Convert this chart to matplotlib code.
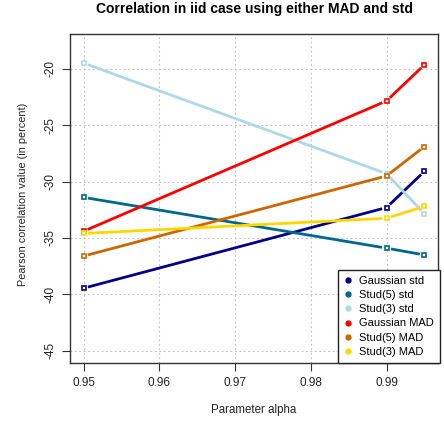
import matplotlib
matplotlib.use("Agg")
import matplotlib.pyplot as plt
from matplotlib.lines import Line2D
import numpy as np

plt.rcParams['font.family'] = ['Liberation Sans', 'DejaVu Sans']

alpha = [0.95, 0.99, 0.995]

gaussian_std = [-39.45, -32.3, -29.1]
stud5_std = [-31.4, -35.9, -36.5]
stud3_std = [-19.5, -29.3, -32.85]
gaussian_mad = [-34.4, -22.85, -19.65]
stud5_mad = [-36.6, -29.5, -26.9]
stud3_mad = [-34.6, -33.25, -32.2]

labels = ['Gaussian std', 'Stud(5) std', 'Stud(3) std',
          'Gaussian MAD', 'Stud(5) MAD', 'Stud(3) MAD']
series = [gaussian_std, stud5_std, stud3_std, gaussian_mad, stud5_mad, stud3_mad]
colors = ['#00008B', '#00688B', '#ADD8E6', '#FF0000', '#CD6600', '#FFD700']

fig = plt.figure(figsize=(4.44, 4.24), dpi=100)
ax = fig.add_axes([70 / 444, 61 / 424, 368 / 444, 329 / 424])

ax.set_xlim(0.95 - 0.045 * 0.04, 0.995 + 0.045 * 0.04)
ax.set_ylim(-45 - 27 * 0.04, -18 + 27 * 0.04)

ax.set_xticks([0.95, 0.96, 0.97, 0.98, 0.99])
ax.set_xticklabels(['0.95', '0.96', '0.97', '0.98', '0.99'])
ax.set_yticks([-45, -40, -35, -30, -25, -20])
ax.set_yticklabels(['-45', '-40', '-35', '-30', '-25', '-20'], rotation=90, va='center')
ax.tick_params(direction='out', length=6, width=0.8, labelsize=8.5,
               colors='#333333', labelcolor='#222222', pad=4)
ax.grid(True, color='#BEBEBE', linestyle=(0, (1.5, 2.5)), linewidth=0.8)
ax.set_axisbelow(True)
for sp in ax.spines.values():
    sp.set_color('#333333')
    sp.set_linewidth(1.0)

# R type="b": lines broken around each point
gap = 4.5
fig.canvas.draw()
tr = ax.transData
inv = tr.inverted()
for vals, col in zip(series, colors):
    pts = tr.transform(np.column_stack([alpha, vals]))
    for p0, p1 in zip(pts[:-1], pts[1:]):
        d = p1 - p0
        n = np.hypot(*d)
        if n <= 2 * gap:
            continue
        a = p0 + d / n * gap
        b = p1 - d / n * gap
        seg = inv.transform(np.array([a, b]))
        ax.plot(seg[:, 0], seg[:, 1], color=col, linewidth=2.0, solid_capstyle='butt')
    ax.plot(alpha, vals, linestyle='none', marker='s', markersize=3.3,
            markerfacecolor='white', markeredgecolor=col, markeredgewidth=1.2)

handles = [Line2D([], [], linestyle='none', marker='o', markersize=3.5,
                  color=c) for c in colors]
leg = ax.legend(handles, labels, loc='lower right', bbox_to_anchor=(1.005, 0),
                borderaxespad=0, fontsize=8, frameon=True, fancybox=False,
                handlelength=0.6, handletextpad=0.7, labelspacing=0.38,
                borderpad=0.55)
leg.get_frame().set_edgecolor('#222222')
leg.get_frame().set_linewidth(1.0)
leg.get_frame().set_alpha(1)

fig.text(254 / 444, 1 - 9 / 424, 'Correlation in iid case using either MAD and std',
         ha='center', va='center', fontsize=10, fontweight='bold')
fig.text(254 / 444, 1 - 410 / 424, 'Parameter alpha', ha='center', va='center',
         fontsize=8.3, color='#222222')
fig.text(23 / 444, 1 - 194 / 424, 'Pearson correlation value (in percent)',
         ha='center', va='center', rotation=90, fontsize=7.8, color='#222222')

fig.savefig('out.png', dpi=100)
